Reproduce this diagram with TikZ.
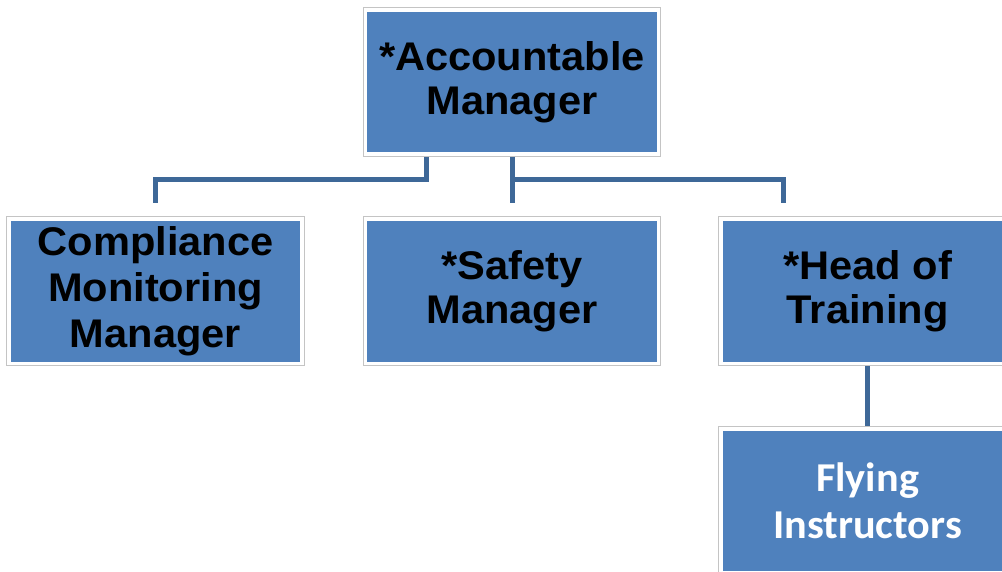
\documentclass[tikz,border=0pt]{standalone}
\usepackage{fontspec}
\setmainfont[FakeStretch=1.04]{Liberation Sans}
\newfontfamily\carlito[FakeStretch=1.03]{Carlito}
\definecolor{boxblue}{RGB}{79,129,189}
\definecolor{linkblue}{RGB}{62,104,152}
\definecolor{framegray}{RGB}{196,196,196}
\begin{document}
\begin{tikzpicture}[x=1pt,y=1pt,
  box/.style={fill=boxblue,draw=white,line width=3.6pt,
    preaction={draw=framegray,line width=5.6pt},
    minimum width=293pt,minimum height=144.2pt,inner sep=0pt,outer sep=2.8pt,
    align=center,font=\bfseries\fontsize{40}{44}\selectfont},
  link/.style={draw=linkblue,line width=5pt}]
\useasboundingbox (0,0) rectangle (1002,571);
\clip (0,0) rectangle (1002,571);

\node[box] (acc) at (512,489) {*Accountable\\Manager};

\node[box,font=\bfseries\fontsize{40}{46}\selectfont] (cmm) at (155.5,279.7) {Compliance\\Monitoring\\Manager};
\node[box] (saf) at (512,279.7) {*Safety\\Manager};
\node[box] (hot) at (867.6,279.7) {*Head of\\Training};

\node[box,text=white,font=\carlito\bfseries\fontsize{41}{47}\selectfont] (fly) at (867.6,70.1) {Flying\\Instructors};

% free ends of the branches, just above the second row
\coordinate (cmmEnd) at (155.5,368);
\coordinate (safEnd) at (512,368);
\coordinate (hotEnd) at (783,368);

\draw[link] ([xshift=-86pt]acc.south) -- ++(0,-23) -| (cmmEnd);
\draw[link] (acc.south) -- (safEnd);
\draw[link] (acc.south) ++(0,-23) -| (hotEnd);

\draw[link] (hot.south) -- (fly.north);
\end{tikzpicture}
\end{document}
